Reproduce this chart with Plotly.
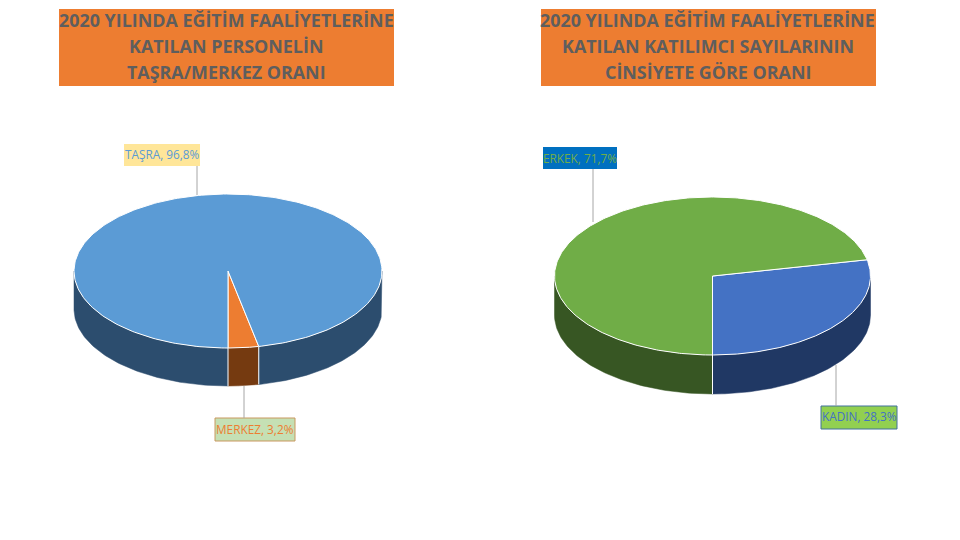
"""
2020 eğitim faaliyetleri — iki adet 3B görünümlü pasta grafik
"""
import numpy as np
import plotly.graph_objects as go

# ─── veri ───
left_names = ['MERKEZ', 'TAŞRA']
left_values = [3.2, 96.8]
right_names = ['KADIN', 'ERKEK']
right_values = [28.3, 71.7]

left_title = ["2020 YILINDA EĞİTİM FAALİYETLERİNE", "KATILAN PERSONELİN", "TAŞRA/MERKEZ ORANI"]
right_title = ["2020 YILINDA EĞİTİM FAALİYETLERİNE", "KATILAN KATILIMCI SAYILARININ", "CİNSİYETE GÖRE ORANI"]

FONT = 'Open Sans'
TITLE_BG = '#ED7D31'
TITLE_FG = '#5E5E5E'


def ellipse(cx, cy, rx, ry, t):
    # t: alt noktadan saat yönünün tersine (ekranda sağa doğru) derece
    a = np.radians(t)
    return cx + rx * np.sin(a), cy + ry * np.cos(a)


def add_pie(fig, values, top_colors, side_colors, cx, cy, rx, ry, depth):
    total = sum(values)
    start = 0.0
    slices = []
    for v, top, side in zip(values, top_colors, side_colors):
        end = start + v / total * 360
        slices.append((start, end, top, side))
        start = end

    # yan duvarlar: sadece öndeki yarım (alt 0-90 ve 270-360)
    for s, e, top, side in slices:
        for lo, hi in [(0, 90), (270, 360)]:
            a, b = max(s, lo), min(e, hi)
            if a >= b:
                continue
            t = np.linspace(a, b, 80)
            x, y = ellipse(cx, cy, rx, ry, t)
            px = np.concatenate([x, x[::-1], x[:1]])
            py = np.concatenate([y, y[::-1] + depth, y[:1]])
            fig.add_trace(go.Scatter(x=px, y=py, mode='lines', fill='toself', fillcolor=side,
                                     line=dict(color=side, width=0.5), hoverinfo='skip', showlegend=False))
    # duvar ayrımı, alttaki beyaz çizgi
    for s, e, top, side in slices:
        if 0 <= s <= 90 or 270 <= s <= 360:
            x, y = ellipse(cx, cy, rx, ry, s)
            fig.add_trace(go.Scatter(x=[x, x], y=[y, y + depth], mode='lines',
                                     line=dict(color='white', width=1), hoverinfo='skip', showlegend=False))

    # üst yüz
    for s, e, top, side in slices:
        t = np.linspace(s, e, 300)
        x, y = ellipse(cx, cy, rx, ry, t)
        px = np.concatenate([[cx], x, [cx]])
        py = np.concatenate([[cy], y, [cy]])
        fig.add_trace(go.Scatter(x=px, y=py, mode='lines', fill='toself', fillcolor=top,
                                 line=dict(color='white', width=1), hoverinfo='skip', showlegend=False))


fig = go.Figure()
add_pie(fig, left_values, ['#ED7D31', '#5B9BD5'], ['#753A10', '#2C4D6E'], 228, 271, 154, 77, 38)
add_pie(fig, right_values, ['#4472C4', '#70AD47'], ['#203864', '#375623'], 712.5, 276, 158, 79, 39)


def label(names, values, i):
    return f"{names[i]}, {values[i]:.1f}%".replace('.', ',')


shapes = [
    dict(type='rect', x0=59, x1=394, y0=9, y1=86, fillcolor=TITLE_BG, line_width=0, layer='below'),
    dict(type='rect', x0=541, x1=876, y0=9, y1=86, fillcolor=TITLE_BG, line_width=0, layer='below'),
    # etiket kutuları
    dict(type='rect', x0=124, x1=200, y0=144, y1=166, fillcolor='#FFE699', line_width=0),
    dict(type='rect', x0=543, x1=617, y0=147, y1=169, fillcolor='#0070C0', line_width=0),
    dict(type='rect', x0=215, x1=295, y0=418, y1=441, fillcolor='#C5E0B4', line=dict(color='#C9985F', width=1)),
    dict(type='rect', x0=821, x1=897, y0=406, y1=429, fillcolor='#92D050', line=dict(color='#41719C', width=1)),
    # kılavuz çizgileri
    dict(type='line', x0=197, x1=197, y0=166, y1=195, line=dict(color='#A6A6A6', width=1)),
    dict(type='line', x0=593, x1=593, y0=169, y1=222, line=dict(color='#A6A6A6', width=1)),
    dict(type='line', x0=244, x1=244, y0=386, y1=418, line=dict(color='#A6A6A6', width=1)),
    dict(type='line', x0=836, x1=836, y0=365, y1=406, line=dict(color='#A6A6A6', width=1)),
]


def note(x, y, text, color, size):
    return dict(x=x, y=y, xref='x', yref='y', text=text, showarrow=False, align='center',
                font=dict(family=FONT, size=size, color=color), xanchor='center', yanchor='middle')


annotations = [
    note(162, 154, label(left_names, left_values, 1), '#5B9BD5', 11.8),
    note(580, 158, label(right_names, right_values, 1), '#70AD47', 11.8),
    note(255, 429, label(left_names, left_values, 0), '#ED7D31', 11.8),
    note(859, 416, label(right_names, right_values, 0), '#4472C4', 11.8),
]
for cx_title, lines in [(226, left_title), (707.5, right_title)]:
    for n, line in enumerate(lines):
        annotations.append(note(cx_title, 20 + 26 * n, f"<b>{line}</b>", TITLE_FG, 17.9))

# sayfanın 8 piksellik gövde boşluğu eksenlerde düşülüyor
fig.update_layout(
    width=952, height=532,
    margin=dict(l=0, r=0, t=0, b=0),
    paper_bgcolor='white', plot_bgcolor='white',
    showlegend=False,
    xaxis=dict(range=[8, 960], visible=False, fixedrange=True),
    yaxis=dict(range=[540, 8], visible=False, fixedrange=True),
    shapes=shapes,
    annotations=annotations,
)

fig.write_html("out.html")
